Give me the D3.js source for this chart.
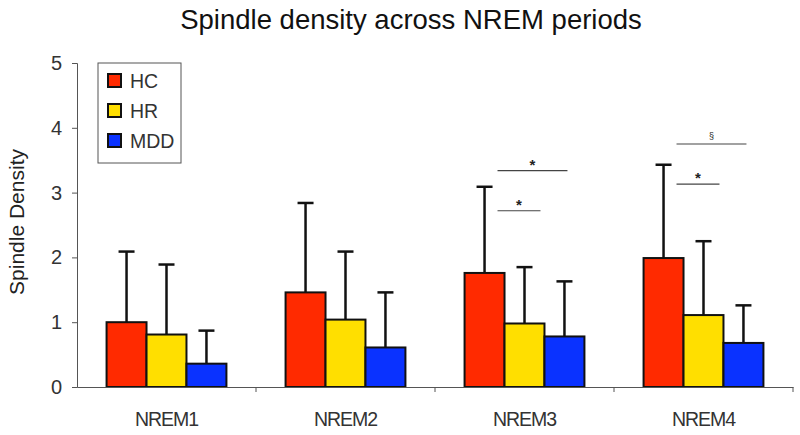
<!DOCTYPE html>
<html>
<head>
<meta charset="utf-8">
<script src="https://cdn.jsdelivr.net/npm/d3@7"></script>
<style>
    body { margin: 0; background: #fff; }
    text { font-family: "Liberation Sans", Arial, sans-serif; fill: #222; }
</style>
</head>
<body>
<div id="chart-area"></div>
<script>
// data
let periods = ["NREM1", "NREM2", "NREM3", "NREM4"];
let groups = ["HC", "HR", "MDD"];
let hcMean = [1.00, 1.46, 1.76, 1.99];
let hcSd   = [1.09, 1.38, 1.33, 1.44];
let hrMean = [0.81, 1.04, 0.98, 1.11];
let hrSd   = [1.08, 1.05, 0.87, 1.14];
let mddMean = [0.36, 0.61, 0.78, 0.68];
let mddSd   = [0.51, 0.85, 0.85, 0.58];
let yTicks = [0, 1, 2, 3, 4, 5];

// significance brackets: y level in density units, groups spanned
let sigPeriod = ["NREM3", "NREM3", "NREM4", "NREM4"];
let sigLevel  = [2.72, 3.34, 3.13, 3.75];
let sigTo     = ["HR", "MDD", "HR", "MDD"];
let sigLabel  = ["*", "*", "*", "§"];

let colors = {HC: "#ff2a00", HR: "#ffdf00", MDD: "#0a32ff"};

let rows = [];
periods.forEach((p, i) => {
    rows.push({period: p, group: "HC", mean: hcMean[i], sd: hcSd[i]});
    rows.push({period: p, group: "HR", mean: hrMean[i], sd: hrSd[i]});
    rows.push({period: p, group: "MDD", mean: mddMean[i], sd: mddSd[i]});
});

let margin = {top: 63, right: 7, bottom: 48, left: 77};
let width = 800 - margin.left - margin.right,
    height = 435 - margin.top - margin.bottom;

let svg = d3.select("#chart-area").append("svg")
    .attr("width", 800)
    .attr("height", 435)
    .append("g")
    .attr("transform", "translate(" + margin.left + "," + margin.top + ")");

let x = d3.scaleBand().domain(periods).range([0, width]).paddingInner(0).paddingOuter(0);
let xSub = d3.scaleBand().domain(groups).range([0, x.bandwidth()]).paddingInner(0).paddingOuter(0.74);
let y = d3.scaleLinear().domain([0, 5]).range([height, 0]);

// title
svg.append("text")
    .attr("x", 334)
    .attr("y", -34)
    .attr("text-anchor", "middle")
    .attr("style", "font-size: 27.5px; fill: #111;")
    .text("Spindle density across NREM periods");

// y axis
let yAxis = svg.append("g")
    .call(d3.axisLeft(y).tickValues(yTicks).tickFormat(d3.format("d")).tickSize(5).tickPadding(10));
yAxis.select(".domain").attr("stroke", "#555");
yAxis.selectAll(".tick line").attr("stroke", "#555");
yAxis.selectAll("text").attr("style", "font-size: 20px; fill: #333; font-family: 'Liberation Sans', Arial, sans-serif;");

svg.append("text")
    .attr("transform", "rotate(-90)")
    .attr("x", -height / 2 + 3)
    .attr("y", -53)
    .attr("text-anchor", "middle")
    .attr("style", "font-size: 21px; fill: #222;")
    .text("Spindle Density");

// bars
let bars = svg.selectAll(".bar").data(rows).enter();

bars.append("line")
    .attr("x1", d => x(d.period) + xSub(d.group) + xSub.bandwidth() / 2)
    .attr("x2", d => x(d.period) + xSub(d.group) + xSub.bandwidth() / 2)
    .attr("y1", d => y(d.mean))
    .attr("y2", d => y(d.mean + d.sd))
    .attr("stroke", "#111")
    .attr("stroke-width", 2.5);

bars.append("line")
    .attr("x1", d => x(d.period) + xSub(d.group) + xSub.bandwidth() / 2 - 8)
    .attr("x2", d => x(d.period) + xSub(d.group) + xSub.bandwidth() / 2 + 8)
    .attr("y1", d => y(d.mean + d.sd))
    .attr("y2", d => y(d.mean + d.sd))
    .attr("stroke", "#111")
    .attr("stroke-width", 2.5);

bars.append("rect")
    .attr("class", "bar")
    .attr("x", d => x(d.period) + xSub(d.group))
    .attr("y", d => y(d.mean))
    .attr("width", xSub.bandwidth())
    .attr("height", d => height - y(d.mean))
    .attr("fill", d => colors[d.group])
    .attr("stroke", "#111")
    .attr("stroke-width", 2);

// x axis
let xAxis = svg.append("g")
    .attr("transform", "translate(0," + height + ")")
    .call(d3.axisBottom(x).tickSize(0).tickPadding(25));
xAxis.select(".domain").attr("stroke", "#555");
xAxis.selectAll("text").attr("style", "font-size: 19.5px; fill: #333; font-family: 'Liberation Sans', Arial, sans-serif; letter-spacing: -1px;");

// group separators
svg.selectAll(".sep")
    .data(periods)
    .enter().append("line")
    .attr("x1", d => x(d) + x.bandwidth())
    .attr("x2", d => x(d) + x.bandwidth())
    .attr("y1", height)
    .attr("y2", height + 5)
    .attr("stroke", "#555");

// significance brackets
sigPeriod.forEach((p, i) => {
    let x0 = x(p) + xSub("HR") - 7;
    let x1 = sigTo[i] === "HR" ? x(p) + xSub("HR") + xSub.bandwidth() - 4
                               : x(p) + xSub("MDD") + xSub.bandwidth() / 2 + 3;
    svg.append("line")
        .attr("x1", x0).attr("x2", x1)
        .attr("y1", y(sigLevel[i])).attr("y2", y(sigLevel[i]))
        .attr("stroke", "#444")
        .attr("stroke-width", 1.2);
    svg.append("text")
        .attr("x", (x0 + x1) / 2)
        .attr("y", y(sigLevel[i]) - (sigLabel[i] === "*" ? 1 : 5))
        .attr("text-anchor", "middle")
        .attr("style", sigLabel[i] === "*" ? "font-size: 15px; font-weight: bold;" : "font-size: 9px;")
        .text(sigLabel[i]);
});

// legend
let legend = svg.append("g").attr("transform", "translate(21, 0)");
legend.append("rect")
    .attr("width", 83)
    .attr("height", 100)
    .attr("fill", "#fff")
    .attr("stroke", "#555")
    .attr("stroke-width", 1);
groups.forEach((g, i) => {
    legend.append("rect")
        .attr("x", 10)
        .attr("y", 11 + i * 30)
        .attr("width", 13)
        .attr("height", 13)
        .attr("fill", colors[g])
        .attr("stroke", "#111")
        .attr("stroke-width", 2);
    legend.append("text")
        .attr("x", 32)
        .attr("y", 25 + i * 30)
        .attr("style", "font-size: 19.5px; fill: #333;")
        .text(g);
});
</script>
</body>
</html>
